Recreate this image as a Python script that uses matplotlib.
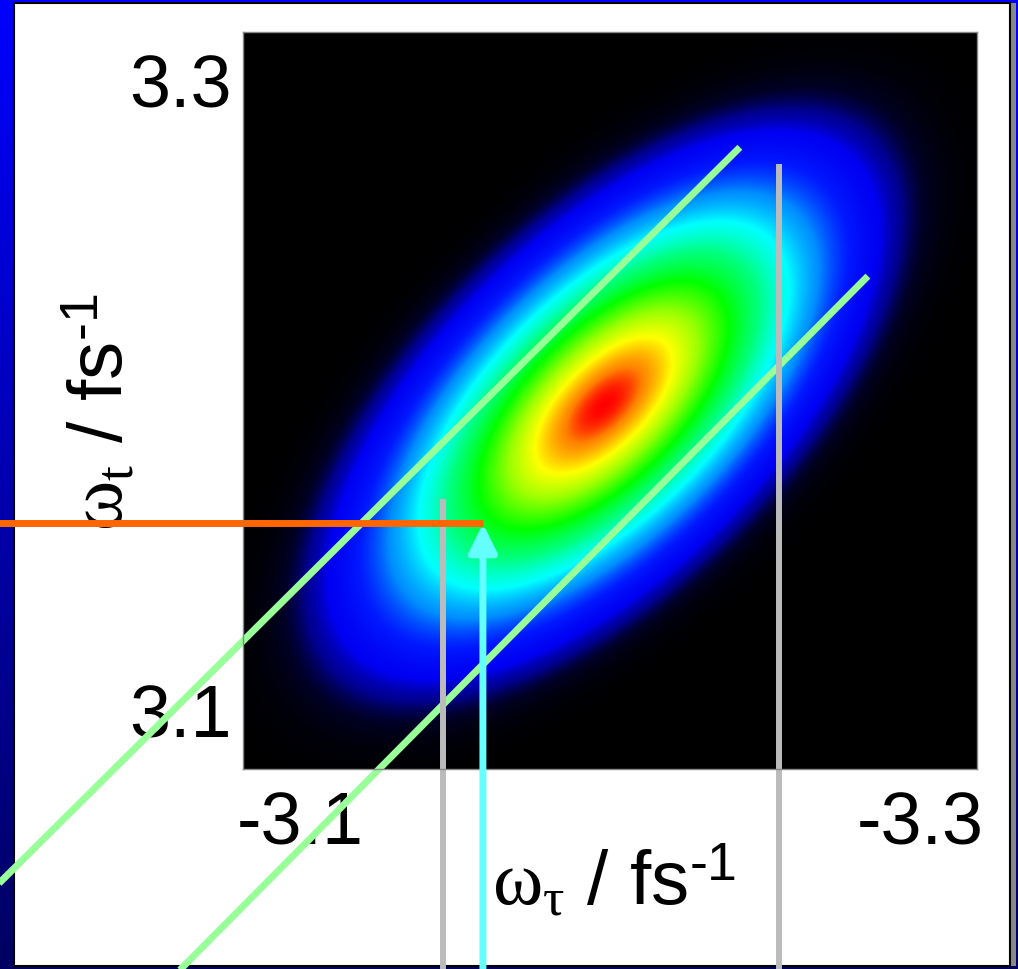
import numpy as np
import matplotlib.pyplot as plt
from matplotlib.colors import LinearSegmentedColormap
from matplotlib.patches import Rectangle

plt.rcParams['font.family'] = ['Liberation Sans', 'DejaVu Sans']
plt.rcParams['mathtext.fontset'] = 'custom'
plt.rcParams['mathtext.rm'] = 'Liberation Sans'
plt.rcParams['mathtext.it'] = 'Liberation Serif'
plt.rcParams['axes.unicode_minus'] = False

# axis ranges and ticks (fs^-1)
w_tau_lim = (-3.0816, -3.3184)
w_t_lim = (3.081, 3.315)
w_tau_ticks = [-3.1, -3.3]
w_t_ticks = [3.1, 3.3]

# 2D spectrum peak
peak_center = (-3.198, 3.1965)
peak_sigma_major = 0.0352
peak_sigma_minor = 0.0168
peak_angle = 44.0  # degrees, in the plotted frame

# overlay lines (data coordinates)
green_upper_tau = [-3.2419, -2.995]
green_upper_t = [3.2784, 3.037]
green_lower_tau = [-3.2832, -3.055]
green_lower_t = [3.2375, 3.011]
grey_tau = [-3.1461, -3.2545]
grey_top = [3.1667, 3.273]
grey_bottom = 3.010
cut_w = 3.159  # orange cut / cyan arrow position
orange_tau = [-2.99, -3.159]
arrow_base = 3.010

cmap = LinearSegmentedColormap.from_list('spec', [
    (0.0000, (0, 0, 0)),
    (0.0010, (0, 0, 0.15)),
    (0.0025, (0, 0, 0.55)),
    (0.0060, (0, 0, 0.95)),
    (0.0180, (0, 0.1, 1.0)),
    (0.0450, (0, 0.55, 1.0)),
    (0.1000, (0, 1.0, 1.0)),
    (0.2000, (0, 1.0, 0.5)),
    (0.3500, (0, 1.0, 0)),
    (0.5500, (0.6, 1.0, 0)),
    (0.7300, (1.0, 1.0, 0)),
    (0.9100, (1.0, 0.5, 0)),
    (1.0000, (1.0, 0.0, 0)),
], N=16384)

fig = plt.figure(figsize=(10.18, 9.70), dpi=100)

# blue slide background with white panel
bg = fig.add_axes([0, 0, 1, 1], zorder=-1)
grad = np.linspace(0, 1, 256).reshape(-1, 1)
bg_cmap = LinearSegmentedColormap.from_list('bg', [(0, 0, 0.38), (0, 0, 1.0)])
bg.imshow(grad, extent=[0, 1, 0, 1], aspect='auto', cmap=bg_cmap, origin='lower')
bg.add_patch(Rectangle((1010 / 1018, 3 / 970), 6 / 1018, 963 / 970, facecolor='#888888', edgecolor='none'))
bg.add_patch(Rectangle((14 / 1018, 3 / 970), 996 / 1018, 963 / 970, facecolor='white', edgecolor='black', lw=1.5))
bg.set_xlim(0, 1)
bg.set_ylim(0, 1)
bg.axis('off')

ax = fig.add_axes([243 / 1018, 200 / 970, 734 / 1018, 737 / 970])
ax.set_facecolor('black')

# spectrum
xs = np.linspace(w_tau_lim[0], w_tau_lim[1], 600)
ys = np.linspace(w_t_lim[0], w_t_lim[1], 600)
X, Y = np.meshgrid(xs, ys)
dx = -(X - peak_center[0])
dy = Y - peak_center[1]
a = np.deg2rad(peak_angle)
u = dx * np.cos(a) + dy * np.sin(a)
v = -dx * np.sin(a) + dy * np.cos(a)
Z = np.exp(-u**2 / (2 * peak_sigma_major**2) - v**2 / (2 * peak_sigma_minor**2))
ax.imshow(Z, extent=[w_tau_lim[0], w_tau_lim[1], w_t_lim[0], w_t_lim[1]], origin='lower',
          cmap=cmap, vmin=0, vmax=1, aspect='auto', interpolation='bilinear')

ax.set_xlim(w_tau_lim)
ax.set_ylim(w_t_lim)
ax.set_xticks(w_tau_ticks)
ax.set_yticks(w_t_ticks)
ax.tick_params(length=0, labelsize=53)
ax.tick_params(axis='x', pad=15)
ax.tick_params(axis='y', pad=8)
for s in ax.spines.values():
    s.set_color('#888888')
    s.set_linewidth(1)

ax.set_xlabel(r'$\omega_\tau$ / fs$^{\text{-1}}$', fontsize=55)
ax.set_ylabel(r'$\omega_t$ / fs$^{\text{-1}}$', fontsize=55)
ax.xaxis.label.set_va('baseline')
ax.xaxis.set_label_coords(0.505, -0.183)
ax.yaxis.label.set_va('baseline')
ax.yaxis.set_label_coords(-0.163, 0.485)

# overlay lines
ax.plot(green_upper_tau, green_upper_t, color='#99FF99', lw=5, clip_on=False, solid_capstyle='butt')
ax.plot(green_lower_tau, green_lower_t, color='#99FF99', lw=5, clip_on=False, solid_capstyle='butt')
for xg, yt in zip(grey_tau, grey_top):
    ax.plot([xg, xg], [yt, grey_bottom], color='#BBBBBB', lw=4.3, clip_on=False, solid_capstyle='butt')
ax.plot(orange_tau, [cut_w, cut_w], color='#FF6600', lw=5, clip_on=False, solid_capstyle='butt')
ax.annotate('', xy=(-cut_w, cut_w), xytext=(-cut_w, arrow_base), annotation_clip=False,
            arrowprops=dict(arrowstyle='-|>,head_length=17,head_width=8.3', mutation_scale=1,
                            color='#66FFFF', lw=5, shrinkA=0, shrinkB=0))

fig.savefig('out.png', dpi=100)
